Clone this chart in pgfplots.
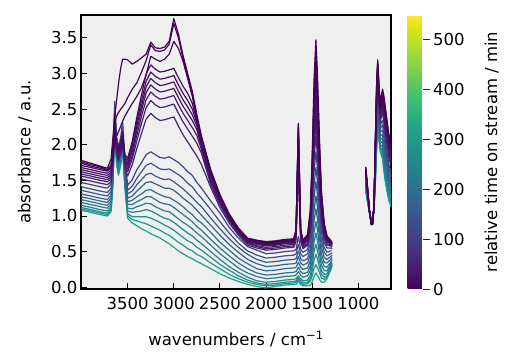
\documentclass[border=0pt]{standalone}
\usepackage{fontspec}
\setmainfont{DejaVu Sans}
\usepackage{pgfplots}
\usepackage{pgfplotstable}
\pgfplotsset{compat=1.18}
\definecolor{bggray}{HTML}{EFEFEF}
\definecolor{cA}{HTML}{440154}
\definecolor{cB}{HTML}{450457}
\definecolor{cC}{HTML}{46075A}
\definecolor{cPd}{HTML}{460B5E}
\definecolor{cPe}{HTML}{471063}
\definecolor{cPf}{HTML}{471365}
\definecolor{cPg}{HTML}{481769}
\definecolor{cPh}{HTML}{481C6E}
\definecolor{cPi}{HTML}{482071}
\definecolor{cPj}{HTML}{482677}
\definecolor{cQa}{HTML}{414487}
\definecolor{cQb}{HTML}{3D4E8A}
\definecolor{cQc}{HTML}{38598C}
\definecolor{cQd}{HTML}{33638D}
\definecolor{cQe}{HTML}{2F6B8E}
\definecolor{cQf}{HTML}{2C738E}
\definecolor{cQg}{HTML}{287C8E}
\definecolor{cQh}{HTML}{24868E}
\definecolor{cQi}{HTML}{218F8D}
\definecolor{cRa}{HTML}{1F978B}
\definecolor{cRb}{HTML}{1FA088}

\pgfplotstableread{
w A B C P4 P5 P6 P7 P8 P9 P10 Q1 Q2 Q3 Q4 Q5 Q6 Q7 Q8 Q9 R1 R2 W
4005 1.78 1.76 1.74 1.71 1.68 1.65 1.62 1.59 1.56 1.52 1.47 1.41 1.36 1.31 1.27 1.23 1.19 1.15 1.12 1.10 1.08 1.435
3900 1.74 1.72 1.70 1.68 1.65 1.62 1.59 1.56 1.53 1.49 1.44 1.38 1.33 1.28 1.24 1.20 1.16 1.12 1.09 1.07 1.05 1.405
3800 1.70 1.69 1.67 1.65 1.62 1.59 1.56 1.53 1.50 1.46 1.41 1.35 1.30 1.25 1.21 1.17 1.13 1.09 1.06 1.04 1.02 1.375
3720 1.67 1.65 1.64 1.63 1.60 1.57 1.54 1.51 1.48 1.44 1.39 1.33 1.28 1.23 1.19 1.15 1.11 1.07 1.04 1.02 1.00 1.355
3680 1.80 1.72 1.68 1.67 1.64 1.61 1.58 1.55 1.52 1.48 1.45 1.39 1.34 1.29 1.25 1.21 1.17 1.13 1.10 1.08 1.06 1.415
3660 2.10 2.00 1.86 1.90 1.87 1.84 1.81 1.78 1.75 1.71 1.84 1.78 1.73 1.68 1.64 1.60 1.56 1.52 1.49 1.47 1.45 1.805
3640 2.40 2.32 2.06 2.35 2.32 2.29 2.26 2.23 2.20 2.16 2.61 2.55 2.50 2.45 2.41 2.37 2.33 2.29 2.26 2.24 2.22 2.575
3620 2.62 2.40 2.12 2.05 2.02 1.99 1.96 1.93 1.90 1.86 2.11 2.05 2.00 1.95 1.91 1.87 1.83 1.79 1.76 1.74 1.72 2.075
3600 2.85 2.45 2.18 1.96 1.93 1.90 1.87 1.84 1.81 1.77 1.96 1.90 1.85 1.80 1.76 1.72 1.68 1.64 1.61 1.59 1.57 1.925
3575 3.08 2.50 2.26 2.05 2.02 1.99 1.96 1.93 1.90 1.86 2.11 2.05 2.00 1.95 1.91 1.87 1.83 1.79 1.76 1.74 1.72 2.075
3555 3.20 2.53 2.33 2.18 2.15 2.12 2.09 2.06 2.03 1.99 2.32 2.26 2.21 2.16 2.12 2.08 2.04 2.00 1.97 1.95 1.93 2.285
3530 3.20 2.58 2.40 1.86 1.83 1.80 1.77 1.74 1.71 1.67 1.79 1.73 1.68 1.63 1.59 1.55 1.51 1.47 1.44 1.42 1.40 1.755
3500 3.19 2.66 2.47 1.81 1.77 1.73 1.70 1.66 1.62 1.56 1.43 1.36 1.31 1.25 1.20 1.16 1.11 1.07 1.03 1.00 0.97 1.36
3450 3.13 2.78 2.58 2.05 2.00 1.95 1.91 1.85 1.80 1.72 1.51 1.42 1.35 1.28 1.22 1.16 1.10 1.05 0.99 0.95 0.90 1.42
3400 3.17 2.87 2.68 2.39 2.33 2.27 2.21 2.14 2.06 1.95 1.65 1.53 1.44 1.35 1.27 1.20 1.13 1.06 0.99 0.93 0.86 1.53
3350 3.22 3.02 2.80 2.70 2.62 2.55 2.48 2.40 2.30 2.16 1.75 1.62 1.51 1.41 1.31 1.23 1.15 1.07 0.99 0.91 0.82 1.62
3300 3.27 3.18 2.98 2.99 2.89 2.81 2.73 2.63 2.52 2.36 1.86 1.71 1.58 1.47 1.36 1.27 1.18 1.09 0.99 0.89 0.79 1.71
3250 3.44 3.40 3.24 3.12 3.02 2.93 2.84 2.74 2.62 2.44 1.90 1.74 1.60 1.48 1.37 1.27 1.17 1.07 0.97 0.86 0.75 1.74
3200 3.36 3.32 3.20 3.06 2.96 2.87 2.78 2.68 2.56 2.38 1.86 1.70 1.56 1.45 1.33 1.23 1.13 1.04 0.94 0.83 0.72 1.70
3150 3.35 3.31 3.17 3.02 2.92 2.83 2.74 2.64 2.52 2.34 1.82 1.66 1.53 1.42 1.30 1.19 1.10 1.00 0.91 0.80 0.69 1.66
3100 3.37 3.33 3.20 3.03 2.93 2.84 2.75 2.65 2.53 2.35 1.81 1.65 1.51 1.39 1.27 1.17 1.07 0.97 0.87 0.76 0.65 1.65
3050 3.45 3.41 3.27 3.05 2.95 2.86 2.77 2.67 2.55 2.37 1.83 1.66 1.52 1.39 1.26 1.16 1.06 0.95 0.84 0.73 0.61 1.66
3000 3.77 3.70 3.45 3.07 2.97 2.88 2.79 2.69 2.57 2.39 1.79 1.62 1.48 1.36 1.22 1.12 1.01 0.91 0.80 0.68 0.56 1.62
2950 3.55 3.50 3.35 2.94 2.84 2.75 2.66 2.56 2.44 2.26 1.75 1.58 1.43 1.31 1.18 1.07 0.96 0.86 0.75 0.63 0.51 1.58
2900 3.25 3.21 3.17 2.82 2.72 2.63 2.54 2.44 2.32 2.14 1.69 1.53 1.38 1.25 1.13 1.02 0.91 0.81 0.70 0.59 0.47 1.53
2850 3.00 2.96 2.93 2.72 2.62 2.53 2.44 2.34 2.22 2.04 1.62 1.46 1.32 1.20 1.07 0.97 0.87 0.76 0.65 0.54 0.43 1.46
2800 2.75 2.71 2.68 2.58 2.50 2.42 2.34 2.24 2.12 1.94 1.57 1.41 1.26 1.15 1.02 0.92 0.82 0.72 0.62 0.51 0.40 1.41
2750 2.42 2.38 2.36 2.33 2.30 2.26 2.21 2.13 2.02 1.84 1.47 1.32 1.19 1.08 0.95 0.85 0.76 0.66 0.56 0.46 0.36 1.32
2700 2.12 2.09 2.07 2.05 2.02 1.99 1.96 1.93 1.88 1.72 1.39 1.25 1.13 1.01 0.90 0.80 0.71 0.61 0.52 0.43 0.33 1.25
2600 1.65 1.62 1.60 1.58 1.56 1.53 1.50 1.47 1.44 1.40 1.21 1.09 0.97 0.87 0.77 0.67 0.59 0.50 0.42 0.34 0.26 1.09
2500 1.30 1.28 1.27 1.25 1.24 1.22 1.20 1.18 1.16 1.12 1.04 0.92 0.82 0.73 0.63 0.55 0.47 0.39 0.32 0.26 0.19 0.92
2400 1.03 1.01 1.00 0.99 0.98 0.97 0.96 0.94 0.93 0.90 0.84 0.76 0.68 0.60 0.52 0.44 0.37 0.29 0.24 0.18 0.13 0.76
2300 0.83 0.81 0.80 0.80 0.79 0.78 0.77 0.76 0.75 0.73 0.69 0.62 0.56 0.49 0.41 0.34 0.27 0.21 0.16 0.12 0.08 0.645
2200 0.69 0.68 0.67 0.66 0.65 0.64 0.63 0.62 0.61 0.59 0.57 0.51 0.46 0.39 0.33 0.26 0.20 0.14 0.10 0.07 0.04 0.535
2100 0.66 0.65 0.64 0.63 0.62 0.61 0.60 0.58 0.57 0.55 0.52 0.45 0.39 0.33 0.26 0.20 0.15 0.09 0.06 0.04 0.01 0.475
2000 0.64 0.63 0.62 0.61 0.60 0.59 0.58 0.56 0.54 0.52 0.47 0.41 0.35 0.29 0.23 0.17 0.12 0.07 0.04 0.02 -0.01 0.435
1900 0.65 0.64 0.63 0.62 0.61 0.60 0.59 0.57 0.55 0.53 0.48 0.42 0.36 0.30 0.24 0.18 0.13 0.08 0.05 0.03 0.01 0.445
1800 0.67 0.66 0.65 0.64 0.63 0.62 0.61 0.59 0.57 0.55 0.50 0.44 0.38 0.32 0.26 0.20 0.15 0.10 0.07 0.05 0.03 0.465
1700 0.68 0.67 0.66 0.65 0.64 0.63 0.62 0.60 0.58 0.56 0.51 0.45 0.39 0.33 0.27 0.21 0.16 0.11 0.08 0.06 0.04 0.475
1675 0.81 0.80 0.79 0.77 0.76 0.75 0.73 0.71 0.68 0.64 0.53 0.47 0.40 0.34 0.28 0.22 0.17 0.12 0.09 0.07 0.04 0.495
1650 2.30 2.27 2.24 2.20 2.15 2.10 2.02 1.92 1.80 1.62 0.71 0.60 0.51 0.43 0.35 0.28 0.22 0.16 0.13 0.11 0.09 0.625
1625 0.81 0.80 0.79 0.77 0.76 0.75 0.73 0.71 0.68 0.64 0.53 0.47 0.40 0.34 0.28 0.22 0.17 0.12 0.09 0.07 0.04 0.495
1600 0.66 0.65 0.64 0.63 0.62 0.61 0.60 0.58 0.56 0.54 0.49 0.43 0.37 0.31 0.25 0.19 0.14 0.09 0.06 0.04 0.02 0.455
1550 0.74 0.73 0.71 0.70 0.68 0.67 0.66 0.63 0.61 0.59 0.53 0.47 0.40 0.34 0.27 0.21 0.16 0.10 0.07 0.05 0.02 0.495
1520 1.09 1.06 1.02 0.98 0.95 0.92 0.89 0.86 0.82 0.78 0.71 0.62 0.54 0.46 0.38 0.30 0.24 0.17 0.12 0.09 0.03 0.645
1500 1.84 1.78 1.69 1.61 1.54 1.47 1.41 1.35 1.29 1.21 1.09 0.96 0.84 0.72 0.61 0.50 0.40 0.31 0.23 0.16 0.08 0.985
1480 2.91 2.79 2.64 2.48 2.36 2.24 2.13 2.03 1.93 1.80 1.62 1.43 1.26 1.08 0.93 0.77 0.63 0.50 0.38 0.26 0.15 1.455
1460 3.47 3.33 3.14 2.95 2.80 2.65 2.52 2.40 2.28 2.12 1.90 1.68 1.48 1.28 1.10 0.92 0.76 0.60 0.46 0.32 0.20 1.705
1445 3.05 2.93 2.77 2.61 2.48 2.35 2.24 2.13 2.03 1.89 1.69 1.50 1.32 1.14 0.98 0.82 0.67 0.53 0.41 0.28 0.17 1.525
1420 2.03 1.96 1.86 1.76 1.69 1.61 1.54 1.47 1.41 1.32 1.19 1.05 0.92 0.80 0.68 0.56 0.46 0.36 0.27 0.20 0.11 1.075
1400 1.35 1.31 1.26 1.21 1.16 1.12 1.08 1.04 0.99 0.94 0.85 0.75 0.66 0.56 0.47 0.39 0.31 0.23 0.18 0.13 0.07 0.775
1370 0.90 0.88 0.86 0.83 0.81 0.79 0.77 0.74 0.71 0.68 0.63 0.56 0.49 0.42 0.35 0.29 0.23 0.18 0.14 0.11 0.07 0.585
1340 0.72 0.71 0.70 0.69 0.67 0.66 0.65 0.64 0.61 0.59 0.55 0.49 0.44 0.39 0.34 0.28 0.23 0.19 0.16 0.14 0.12 0.515
1300 0.66 0.65 0.64 0.64 0.63 0.62 0.62 0.60 0.59 0.58 0.55 0.51 0.47 0.43 0.39 0.35 0.32 0.29 0.27 0.25 0.24 0.535
1285 0.62 0.62 0.61 0.61 0.60 0.60 0.59 0.58 0.57 0.56 0.54 0.51 0.48 0.45 0.42 0.39 0.36 0.34 0.32 0.31 0.30 0.535
}\segA

\pgfplotstableread{
w A B C P4 P5 P6 P7 P8 P9 P10 Q1 Q2 Q3 Q4 Q5 Q6 Q7 Q8 Q9 R1 R2 W
920 1.69 1.68 1.67 1.66 1.64 1.63 1.62 1.60 1.59 1.57 1.54 1.51 1.49 1.47 1.45 1.42 1.40 1.39 1.37 1.36 1.35 1.51
900 1.40 1.39 1.39 1.38 1.37 1.36 1.36 1.35 1.34 1.33 1.31 1.30 1.28 1.27 1.26 1.24 1.23 1.22 1.21 1.21 1.20 1.30
880 1.08 1.08 1.08 1.08 1.08 1.07 1.07 1.07 1.07 1.07 1.07 1.06 1.06 1.06 1.06 1.06 1.05 1.05 1.05 1.05 1.05 1.06
860 0.88 0.88 0.88 0.89 0.89 0.89 0.90 0.90 0.90 0.90 0.91 0.92 0.92 0.93 0.93 0.93 0.94 0.94 0.95 0.95 0.95 0.92
845 0.88 0.88 0.89 0.89 0.89 0.90 0.90 0.90 0.91 0.91 0.92 0.93 0.93 0.94 0.94 0.95 0.96 0.96 0.96 0.97 0.97 0.93
830 1.15 1.15 1.15 1.15 1.14 1.14 1.14 1.14 1.14 1.13 1.13 1.12 1.12 1.12 1.11 1.11 1.11 1.11 1.10 1.10 1.10 1.12
815 2.10 2.08 2.06 2.04 2.02 1.99 1.97 1.94 1.92 1.89 1.83 1.79 1.75 1.70 1.67 1.63 1.60 1.57 1.54 1.52 1.50 1.79
800 2.95 2.92 2.89 2.86 2.82 2.78 2.74 2.70 2.67 2.62 2.52 2.46 2.39 2.32 2.27 2.21 2.15 2.10 2.07 2.03 2.00 2.46
790 3.19 3.16 3.13 3.09 3.05 3.01 2.97 2.93 2.89 2.84 2.74 2.68 2.61 2.54 2.48 2.42 2.36 2.31 2.27 2.23 2.20 2.68
775 2.80 2.78 2.76 2.73 2.70 2.67 2.64 2.61 2.58 2.54 2.46 2.41 2.36 2.31 2.26 2.22 2.17 2.13 2.10 2.07 2.05 2.41
762 2.55 2.53 2.51 2.49 2.46 2.43 2.41 2.38 2.36 2.32 2.26 2.21 2.17 2.12 2.08 2.04 2.00 1.97 1.95 1.92 1.90 2.21
750 2.70 2.67 2.65 2.62 2.58 2.55 2.51 2.48 2.45 2.40 2.32 2.26 2.20 2.14 2.09 2.04 1.99 1.94 1.91 1.88 1.85 2.26
737 2.78 2.75 2.72 2.68 2.64 2.60 2.56 2.53 2.49 2.44 2.34 2.27 2.20 2.13 2.07 2.02 1.96 1.91 1.87 1.83 1.80 2.27
725 2.70 2.67 2.64 2.60 2.55 2.51 2.47 2.43 2.39 2.33 2.23 2.15 2.08 2.01 1.94 1.88 1.82 1.77 1.72 1.68 1.65 2.15
710 2.55 2.52 2.49 2.45 2.40 2.36 2.32 2.28 2.24 2.18 2.08 2.00 1.93 1.86 1.79 1.73 1.67 1.62 1.57 1.53 1.50 2.00
690 2.35 2.32 2.29 2.25 2.21 2.17 2.13 2.09 2.05 2.00 1.90 1.83 1.76 1.69 1.63 1.57 1.51 1.46 1.42 1.38 1.35 1.83
670 2.15 2.12 2.09 2.06 2.02 1.98 1.95 1.91 1.87 1.82 1.73 1.67 1.60 1.54 1.48 1.42 1.37 1.32 1.29 1.25 1.22 1.67
646 2.00 1.97 1.95 1.91 1.88 1.84 1.81 1.77 1.74 1.70 1.61 1.55 1.49 1.43 1.37 1.32 1.27 1.23 1.19 1.16 1.13 1.55
}\segB

\newcommand{\spec}[2]{%
  \addplot[color=#2] table[x=w,y=#1]{\segA};
  \addplot[color=#2] table[x=w,y=#1]{\segB};
}
\newcommand{\txtfont}{\fontsize{16.5}{19}\selectfont}

\begin{document}
\begin{tikzpicture}
\path[use as bounding box] (-81pt,-75pt) rectangle (433pt,289pt);
\begin{axis}[
  at={(0pt,0pt)}, anchor=south west,
  scale only axis, width=310pt, height=274pt,
  x dir=reverse,
  xmin=646, xmax=4006, ymin=-0.025, ymax=3.82,
  xtick={1000,1500,2000,2500,3000,3500},
  ytick={0,0.5,1,1.5,2,2.5,3,3.5},
  tick pos=left, tick align=inside,
  major tick length=6pt,
  tick style={black, line width=0.9pt},
  axis line style={line width=1.8pt},
  axis background/.style={fill=bggray},
  /pgf/number format/assume math mode=true,
  xticklabel style={/pgf/number format/1000 sep={}, yshift=-5pt},
  yticklabel style={/pgf/number format/fixed, /pgf/number format/fixed zerofill, /pgf/number format/precision=1},
  tick label style={font=\txtfont},
  label style={font=\txtfont},
  xlabel={wavenumbers / cm\textsuperscript{−1}},
  ylabel={absorbance / a.u.},
  xlabel style={at={(axis description cs:0.5,-0.182)}, anchor=center},
  ylabel style={at={(axis description cs:-0.181,0.5)}, anchor=center},
  no markers,
  every axis plot/.append style={line width=1.2pt, line join=round},
  colormap name=viridis,
  point meta min=0, point meta max=549,
  colorbar,
  colorbar style={
    at={(parent axis.north east)}, anchor=north west, xshift=8pt,
    scale only axis, width=22pt, height=274pt,
    ytick={0,100,200,300,400,500},
    ytick pos=right, yticklabel pos=right,
    tick align=inside, major tick length=7pt,
    tick style={black!85, line width=0.9pt},
    axis line style={draw=none},
    tick label style={font=\txtfont},
    /pgf/number format/assume math mode=true,
    ylabel={relative time on stream / min},
    ylabel style={font=\txtfont, at={(axis description cs:3.82,0.5)}, anchor=center},
  },
]
\spec{W}{white}
\spec{R2}{cRb}
\spec{R1}{cRa}
\spec{Q9}{cQi}
\spec{Q8}{cQh}
\spec{Q7}{cQg}
\spec{Q6}{cQf}
\spec{Q5}{cQe}
\spec{Q4}{cQd}
\spec{Q3}{cQc}
\spec{Q2}{cQb}
\spec{Q1}{cQa}
\spec{P10}{cPj}
\spec{P9}{cPi}
\spec{P8}{cPh}
\spec{P7}{cPg}
\spec{P6}{cPf}
\spec{P5}{cPe}
\spec{P4}{cPd}
\spec{C}{cC}
\spec{B}{cB}
\spec{A}{cA}
\end{axis}
\end{tikzpicture}
\end{document}
